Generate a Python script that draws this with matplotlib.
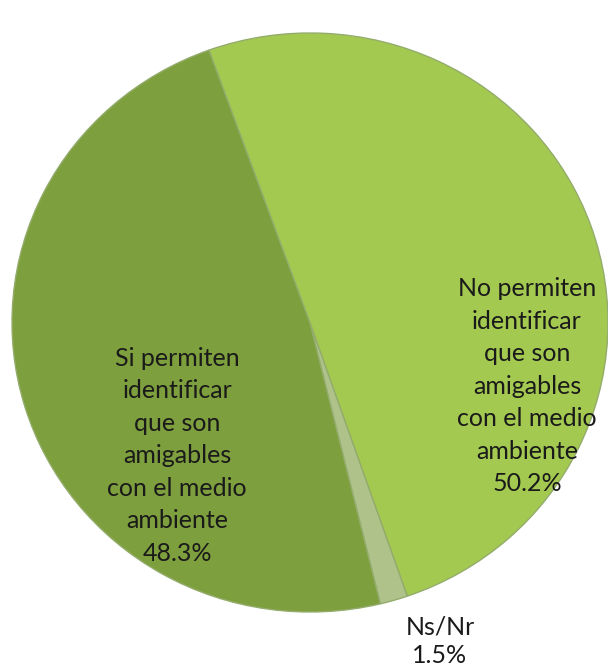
import matplotlib
matplotlib.use('Agg')
import matplotlib.pyplot as plt

plt.rcParams.update({
    'font.family': ['Lato', 'DejaVu Sans'],
    'font.size': 18,
})

labels = [
    'Si permiten\nidentificar\nque son\namigables\ncon el medio\nambiente',
    'Ns/Nr',
    'No permiten\nidentificar\nque son\namigables\ncon el medio\nambiente',
]
values = [48.3, 1.5, 50.2]
colors = ['#7E9F3D', '#AEC28A', '#A4C950']
# label anchor points (data coords, unit pie)
label_pos = [(-0.446, -0.46), (0.436, -1.10), (0.728, -0.22)]

W, H = 608, 670
fig = plt.figure(figsize=(W / 100, H / 100), dpi=100)
ax = fig.add_axes([12 / W, (H - 612) / H, 596 / W, 579 / H])

wedges, _ = ax.pie(values, colors=colors, startangle=109.8,
                   counterclock=True,
                   wedgeprops=dict(edgecolor='#93AC6C', linewidth=1.0))
ax.set_aspect('auto')
ax.set_xlim(-1, 1)
ax.set_ylim(-1, 1)

for i, (lab, val, (x, y)) in enumerate(zip(labels, values, label_pos)):
    ax.text(x, y, f'{lab}\n{val}%', ha='center', va='center',
            linespacing=1.5 if i != 1 else 1.3, color='#1a1a1a',
            clip_on=False)

fig.savefig('out.png', dpi=100)
